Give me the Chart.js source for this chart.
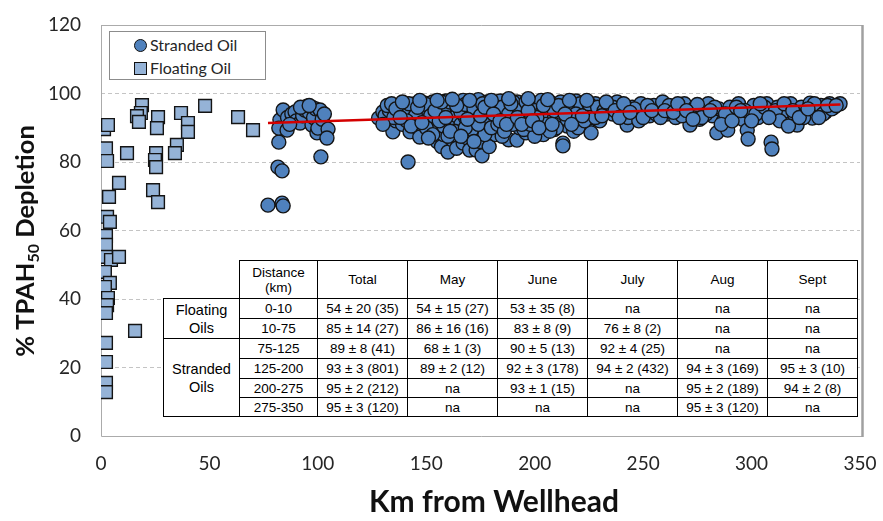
<!DOCTYPE html>
<html><head><meta charset="utf-8">
<script src="https://cdn.jsdelivr.net/npm/chart.js@4.4.1/dist/chart.umd.min.js"></script>
<style>
html,body{margin:0;padding:0;background:#fff;}
#wrap{position:relative;width:883px;height:521px;overflow:hidden;}
#c{position:absolute;left:0;top:0;}
#legend{position:absolute;left:109px;top:31px;width:157px;height:49px;border:1px solid #8c8c8c;background:#fff;font-family:Lato,sans-serif;font-size:16px;color:#262626;box-sizing:border-box;}
#legend .it{position:absolute;left:24px;height:20px;line-height:20px;white-space:nowrap;}
#legend .mk{display:inline-block;width:11px;height:11px;border:1.5px solid #111;vertical-align:-1px;margin-right:3px;}
#legend .circ{border-radius:50%;background:#4F81BD;}
#legend .sq{background:#95B3D7;}
#tbl{position:absolute;left:163px;top:260px;border-collapse:collapse;table-layout:fixed;width:694px;background:#fff;font-family:"Liberation Sans",Arial,sans-serif;font-size:13.5px;color:#000;}
#tbl td{border:1px solid #000;text-align:center;padding:0;line-height:15px;white-space:nowrap;}
#tbl td.blank{border-top:none;border-left:none;background:transparent;}
#tbl td.grp{font-size:14.5px;line-height:18px;}
</style></head>
<body>
<div id="wrap">
<canvas id="c" width="883" height="521"></canvas>
<div id="legend">
 <div class="it" style="top:3px"><span class="mk circ"></span>Stranded Oil</div>
 <div class="it" style="top:26px"><span class="mk sq"></span>Floating Oil</div>
</div>
<table id="tbl"></table>
</div>
<script>
// ---------- data ----------
const xTitle = 'Km from Wellhead';
const yTitleMain = '% TPAH';
const yTitleSub = '50';
const yTitleRest = ' Depletion';
const seriesNames = ['Stranded Oil', 'Floating Oil'];

// Floating oil samples [km, % depletion]
const floatingOil = [
 [1.4,89.6],[3.2,90.8],[2.3,84],[2.8,80.3],[3.7,69.8],[8.3,73.9],[12,82.6],
 [18.9,96.6],[18.4,94.3],[16.6,93.4],[17.5,91.7],[26.3,93.1],[25.8,89.9],
 [36.9,94.3],[40.1,91.4],[40.1,88.8],[48,96.4],[63.2,93.1],[70.1,89.3],
 [25.4,82.6],[24.9,80.6],[25.4,78.5],[35,85],[34.1,82.6],[24,71.8],[26.3,68.3],
 [2.8,64],[4.1,62.5],[2.3,58.4],[2.3,55.8],[2.3,52.3],[4.6,51.4],[8.3,52.3],
 [1.8,47.9],[4.1,44.7],[1.8,43.5],[3.2,40.3],[2.8,38.2],[2.3,35.9],[15.7,30.7],
 [2.3,27.2],[2.3,21.6],[2.3,15.5],[2.3,12.8]
];

// Stranded oil samples [km, % depletion]
const strandedOil = [
 [77,67.4],[83.5,68],[84,67.2],[81.6,78.5],[83.5,77.4],[82,85.8],[82.5,92.3],[82,89.9],
 [84,95.2],[85.8,89.3],[86,93],[88,94],[89.5,94.6],[90,92],[91.8,91.4],[93,93.5],
 [94,95.2],[95,96.3],[96,94.5],[97.3,96],[97.3,90.8],[98,93],[99,95.5],[99.6,88.5],
 [100,89.9],[101,95.2],[101.4,81.5],[102,92.5],[104.7,89.6],[104.2,87],[103,94],
 [87,91],[92,96],[96,96.5],
 [128,92.8],[130,94.6],[131,93.5],[133,95],[134.6,88.8],[136,92],[137,94.6],[138,96],
 [139,91],[141.6,80],[142.5,88.8],[143.9,95.2],[144,92.5],[145,97],[146,90],[147,87.3],
 [148,94],[149.4,97.2],[150,92],[151,95.5],[152,89],[153,97.5],[154,93],[155,86],
 [155,91],[156,96.5],[157,84.5],[157,94],[158,88],[159,97.8],[160,82.9],[160,92],
 [161,95],[162,86.5],[162,90],[163,97],[164,84],[164,93.5],[165,88.5],[165,96],
 [166,91],[167,85.5],[167,98],[168,93],[169,87],[169,95.5],[170,83.5],[170,90.5],
 [171,97],[172,92],[173,83.5],[173,88],[174,95],[174,98.2],[175,86],[175.7,81.8],
 [176,91.5],[177,94],[178,97.5],[178,89],[179,84.5],[180,92.5],[181,96],[182,88],
 [183,94.5],[184,97.8],[185,90.5],[186,93],[187,96.5],[188,86.5],[189,92],[190,95],
 [191.8,86.4],[192,97.5],[193,90],[194,93.5],[195,96],[196,88.5],[197,92],[198,97],
 [199,94.5],[200,90],[201,96.5],[202,92.5],[203,98],[204,88],[205,95],[206,91.5],
 [207,97.5],[208,93.5],[209,89.5],[210,96],[211,92],[212,94.5],[213,85.5],[213,84.7],
 [214,97],[215,90.5],[216,93],[217,95.5],[218,89],[219,97.8],[220,92],[221,94],
 [222,96.5],[224,91],[225,95],[226,93],[228,97],[229,94.5],[230,92],
 [132,96.5],[135,93],[140,94],[142,97],[147,95],[150,96.8],[152,93.5],[158,95.5],
 [161,97.5],[166,94.5],[168,96.8],[172,95.5],[176,97],[179,93],[182,95],[185,96],
 [188,94],[190,97.5],[193,95],[196,97.5],[200,95],[203,94],[206,96],[209,95],
 [212,97.5],[215,95.5],[218,96],[221,97],[224,94],[227,96],[150,90],[153,88],
 [158,90.5],[163,89],[171,89.5],[177,88],[185,87.5],[195,89.5],[200,87.5],[205,91],
 [210,90],[220,90],[226,88.5],[145,93.5],[156,92],[160,87.5],[168,90],[174,91],
 [180,90],[183,91],[186,89],[190,91],[198,91],[201,93],[207,89],[215,92.5],
 [219,94],[223,92],[228,93],
 [134,97],[136,95.5],[139,97.5],[141,92],[143,90.5],[146,96],[148,91.5],[151,87],
 [154,95],[157,97.5],[159,93],[161,89],[164,96.5],[166,87.5],[169,92.5],[172,86],
 [175,93.5],[177,96],[181,94],[184,92],[187,91],[189,97],[192,93],[194,91],
 [197,95],[199,92],[202,90],[204,96.5],[208,91],[211,96.5],[214,94],[217,91],
 [222,93.5],[225,97],[229,96],[130,91],[138,93],[147,98],[155,98],[162,98.3],
 [170,98],[180,98],[188,98.5],[197,98.5],[206,98.2],[216,98],[224,98],
 [232,95],[234,96.5],[236,94],[238,97.5],[240,95.5],[242.6,90.8],[243,93],[245,96],
 [247,94.5],[249,97],[251,95],[253,93.5],[255,96.5],[257,95],[259,97.5],[261,94],
 [263,96],[265,93],[267,95.5],[269,97],[271.6,90.8],[272,94],[274,96],[276,92.5],
 [278,95],[280,97],[282,93.5],[284,88.5],[285,95.5],[287,92],[289,89.3],[290,96],
 [292,94],[294,97],[296,92.5],[298,89.3],[298.4,86.7],[299,95],[301,96.5],[303,93],
 [305,95.5],[307,97],[309,85.8],[309.4,83.8],[310,94],[312,96],[314,92.5],[316,95],
 [318,97],[320,93.5],[321,90.8],[323,96],[325,94],[327,97.2],[328,92.8],[330,95.5],
 [332,96.5],[334,94.5],[336,97],[338,96],[340.8,97],
 [236,96],[246,95.5],[256,94],[262,96.5],[268,93.5],[275,96.8],[279,94],[283,96],
 [288,94],[293,96],[297,95],[302,94],[306,96],[311,95],[315,97],[319,95],
 [324,93],[329,97],[333,94],[337,95.5],[313,92],[317,90.5],[322,93],[300,92],
 [286,91],[277,93],[248,92],[258,93],
 [231,93.5],[233,97.5],[237,95],[239,93],[241,97],[244,94.5],[250,93],[252,96.5],
 [254,95],[260,95],[264,94.5],[266,97],[270,95],[273,92.5],[281,95],[291,92],
 [295,95],[304,97],[308,93],[326,95.5],[331,93],[335,96.5],[339,96.5]
];

// Trend line end points (stranded oils) [km, %]
const trendLine = [[77,91.4],[341,96.8]];

// Axis ticks
const xTicks = [0,50,100,150,200,250,300,350];
const yTicks = [0,20,40,60,80,100,120];

// Inset table
const tableHeader = ['Distance\n(km)','Total','May','June','July','Aug','Sept'];
const tableGroups = [['Floating\nOils',2],['Stranded\nOils',4]];
const tableDistance = ['0-10','10-75','75-125','125-200','200-275','275-350'];
const tableTotal = ['54 ± 20 (35)','85 ± 14 (27)','89 ± 8 (41)','93 ± 3 (801)','95 ± 2 (212)','95 ± 3 (120)'];
const tableMay = ['54 ± 15 (27)','86 ± 16 (16)','68 ± 1 (3)','89 ± 2 (12)','na','na'];
const tableJune = ['53 ± 35 (8)','83 ± 8 (9)','90 ± 5 (13)','92 ± 3 (178)','93 ± 1 (15)','na'];
const tableJuly = ['na','76 ± 8 (2)','92 ± 4 (25)','94 ± 2 (432)','na','na'];
const tableAug = ['na','na','na','94 ± 3 (169)','95 ± 2 (189)','95 ± 3 (120)'];
const tableSept = ['na','na','na','95 ± 3 (10)','94 ± 2 (8)','na'];

// ---------- table ----------
(function buildTable(){
  const t = document.getElementById('tbl');
  const widths = [76,78,90,90,90,90,90,90];
  const rowH = [38,20,20,20,20,19,19];
  let html = '<colgroup>' + widths.map(w=>'<col style="width:'+w+'px">').join('') + '</colgroup>';
  html += '<tr style="height:'+rowH[0]+'px"><td class="blank"></td>' +
    tableHeader.map(h=>'<td>'+h.replace('\n','<br>')+'</td>').join('') + '</tr>';
  const cols = [tableDistance,tableTotal,tableMay,tableJune,tableJuly,tableAug,tableSept];
  let r = 0;
  tableGroups.forEach(([name,span])=>{
    for (let k=0;k<span;k++){
      html += '<tr style="height:'+rowH[r+1]+'px">';
      if (k===0) html += '<td class="grp" rowspan="'+span+'">'+name.replace('\n','<br>')+'</td>';
      html += cols.map(c=>'<td>'+c[r]+'</td>').join('');
      html += '</tr>';
      r++;
    }
  });
  t.innerHTML = html;
})();

// ---------- chart ----------
const toXY = a => a.map(p=>({x:p[0], y:p[1]}));

const frame = {
  id:'frame',
  beforeDatasetsDraw(chart){
    const {ctx, chartArea:a} = chart;
    ctx.save();
    ctx.strokeStyle = '#ababab';
    ctx.lineWidth = 1;
    ctx.beginPath();
    ctx.moveTo(a.left+0.5, a.top+0.5);
    ctx.lineTo(a.right+2, a.top+0.5);
    ctx.moveTo(a.left+0.5, a.top);
    ctx.lineTo(a.left+0.5, a.bottom+0.5);
    ctx.lineTo(a.right+2, a.bottom+0.5);
    ctx.stroke();
    ctx.strokeStyle = '#a0a0a0';
    ctx.lineWidth = 2.5;
    ctx.beginPath();
    ctx.moveTo(a.right+2.5, a.top);
    ctx.lineTo(a.right+2.5, a.bottom+1);
    ctx.stroke();
    ctx.restore();
  }
};

const titles = {
  id:'titles',
  afterDraw(chart){
    const ctx = chart.ctx;
    ctx.save();
    ctx.fillStyle = '#111';
    ctx.textBaseline = 'alphabetic';
    ctx.textAlign = 'center';
    ctx.font = 'bold 30px Lato, sans-serif';
    ctx.fillText(xTitle, 494, 512);
    ctx.translate(34, 241);
    ctx.rotate(-Math.PI/2);
    const big = 'bold 25.5px Lato, sans-serif', small = 'bold 16px Lato, sans-serif';
    ctx.font = big; const w1 = ctx.measureText(yTitleMain).width, w3 = ctx.measureText(yTitleRest).width;
    ctx.font = small; const w2 = ctx.measureText(yTitleSub).width;
    let x = -(w1+w2+w3)/2;
    ctx.textAlign = 'left';
    ctx.font = big; ctx.fillText(yTitleMain, x, 0); x += w1;
    ctx.font = small; ctx.fillText(yTitleSub, x, 5); x += w2;
    ctx.font = big; ctx.fillText(yTitleRest, x, 0);
    ctx.restore();
  }
};

new Chart(document.getElementById('c'), {
  type:'scatter',
  data:{
    datasets:[
      {type:'line', label:'Trend', data:toXY(trendLine), borderColor:'#d40000', borderWidth:2.5,
       pointRadius:0, fill:false, order:0},
      {label:seriesNames[0], data:toXY(strandedOil), pointStyle:'circle', pointRadius:7,
       backgroundColor:'#4F81BD', borderColor:'#141414', borderWidth:1.4, order:1},
      {label:seriesNames[1], data:toXY(floatingOil), pointStyle:'rect', pointRadius:9,
       backgroundColor:'#95B3D7', borderColor:'#141414', borderWidth:1.4, order:2}
    ]
  },
  options:{
    responsive:false, animation:false, devicePixelRatio:1,
    layout:{padding:{left:0, top:25, right:23, bottom:0}},
    plugins:{legend:{display:false}, tooltip:{enabled:false}},
    scales:{
      x:{type:'linear', min:0, max:350,
         afterBuildTicks(s){ s.ticks = xTicks.map(v=>({value:v})); },
         afterFit(s){ s.height = 85; s.paddingLeft = 0; s.paddingRight = 0; },
         ticks:{font:{family:'Lato', size:19}, color:'#262626', padding:16},
         grid:{display:false, drawTicks:false}, border:{display:false}},
      y:{min:0, max:120,
         afterBuildTicks(s){ s.ticks = yTicks.map(v=>({value:v})); },
         afterFit(s){ s.width = 101; s.paddingTop = 0; s.paddingBottom = 0; },
         ticks:{font:{family:'Lato', size:19}, color:'#262626', padding:20},
         grid:{drawTicks:false, lineWidth:1,
               color:c=> (c.tick && (c.tick.value===0 || c.tick.value===120)) ? 'rgba(0,0,0,0)' : '#c4c4c4'},
         border:{display:false, dash:[4,3]}}
    }
  },
  plugins:[frame, titles]
});
</script>
</body></html>
